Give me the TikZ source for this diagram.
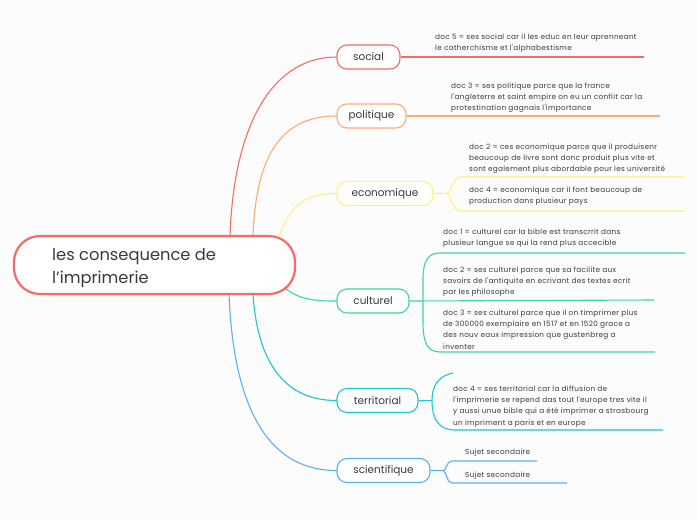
\documentclass[tikz,border=0pt]{standalone}
\usepackage{fontspec}
\setmainfont{Poppins}
\newfontfamily\leaffont[LetterSpace=4]{Poppins}
\definecolor{cred}{HTML}{F56B68}
\definecolor{corange}{HTML}{FFAA72}
\definecolor{cyellow}{HTML}{FFF07E}
\definecolor{cgreen}{HTML}{3FD5A2}
\definecolor{ccyan}{HTML}{1BC6D6}
\definecolor{cblue}{HTML}{5CAEF5}
\definecolor{ctext}{HTML}{3A3A3A}
\definecolor{cbg}{HTML}{FCFCFC}
\pgfdeclarelayer{bg}
\pgfsetlayers{bg,main}
\tikzset{
  branch/.style={draw=#1, line width=1.1pt, fill=white, rounded corners=10pt, minimum height=24pt, inner sep=0pt, font=\fontsize{10.5}{12}\selectfont, text=ctext},
  leaf/.style={anchor=north west, inner sep=0pt, align=left, font=\leaffont\fontsize{7.3}{11.3}\selectfont, text=ctext},
  conn/.style={line width=1.1pt, draw=#1},
}
\begin{document}
\begin{tikzpicture}[x=1pt,y=-1pt]
\begin{pgfonlayer}{bg}
\fill[cbg] (0,0) rectangle (697,520);
\end{pgfonlayer}
\useasboundingbox (0,0) rectangle (697,520);

% central
\node[draw=cred, line width=2.2pt, fill=white, rounded corners=26pt, minimum width=281pt, minimum height=58pt, inner sep=0pt] (c) at (154.5,265) {};
\node[anchor=west, align=left, inner sep=0pt, font=\fontsize{16.3}{22.5}\selectfont, text=ctext] (ct) at (52,268) {les consequence de\\l'imprimerie};

% branches
\node[branch=cred, minimum width=63pt] (s) at (368.5,57) {social};
\node[branch=corange, minimum width=69pt] (p) at (371.5,116) {politique};
\node[branch=cyellow, minimum width=96pt] (e) at (385,193.5) {economique};
\node[branch=cgreen, minimum width=72pt] (cu) at (373,301) {culturel};
\node[branch=ccyan, minimum width=81pt] (t) at (377.5,400.5) {territorial};
\node[branch=cblue, minimum width=93pt] (sc) at (383.5,470.5) {scientifique};

% start points on central node
\coordinate (c1) at (230,236);
\coordinate (c2) at (253,236);
\coordinate (c3) at (279,237);
\coordinate (c4) at (285,288);
\coordinate (c5) at (253,294);
\coordinate (c6) at (229,294);

\begin{pgfonlayer}{bg}
\draw[conn=cred] (c1) .. controls (234,120) and (275,57) .. (s.west);
\draw[conn=corange] (c2) .. controls (256,150) and (285,116) .. (p.west);
\draw[conn=cyellow] (c3) .. controls (290,205) and (305,193.5) .. (e.west);
\draw[conn=cgreen] (c4) .. controls (300,300) and (315,301) .. (cu.west);
\draw[conn=ccyan] (c5) .. controls (258,370) and (290,400.5) .. (t.west);
\draw[conn=cblue] (c6) .. controls (234,420) and (275,470.5) .. (sc.west);
\end{pgfonlayer}

% leaf ends
\coordinate (s1) at (644,57);
\coordinate (p1) at (660,116);
\coordinate (e1) at (685,177);
\coordinate (e2) at (685,211);
\coordinate (u1) at (685,253);
\coordinate (u2) at (654,300);
\coordinate (u3) at (655,352);
\coordinate (t1) at (663,430);
\coordinate (t0) at (453,373);
\coordinate (k1) at (537,461);
\coordinate (k2) at (567,483);

% leaf connectors
\draw[conn=cred] (s.east) -- (s1);
\draw[conn=corange] (p.east) -- (p1);
\draw[conn=cyellow] (e.east) -- (446,193.5) .. controls (452,193.5) and (451,177) .. (462,177) -- (e1);
\draw[conn=cyellow] (446,193.5) .. controls (452,193.5) and (451,211) .. (462,211) -- (e2);
\draw[conn=cgreen] (cu.east) -- (u2);
\draw[conn=cgreen] (u1) -- (440,253) .. controls (427,253) and (423,262) .. (423,280) -- (423,322) .. controls (423,342) and (427,352) .. (440,352) -- (u3);
\draw[conn=ccyan] (t.east) -- (432,400.5);
\draw[conn=ccyan] (t0) .. controls (438,376) and (432,386) .. (432,400.5) .. controls (432,418) and (438,430) .. (455,430) -- (t1);
\draw[conn=cblue] (sc.east) -- (443,470.5) .. controls (447,470.5) and (446,461) .. (452,461) -- (k1);
\draw[conn=cblue] (443,470.5) .. controls (447,470.5) and (446,483) .. (452,483) -- (k2);

% leaf texts
\node[leaf] (l1) at (435,33.5) {doc 5 = ses social car il les educ en leur aprenneant\\le catherchisme et l'alphabestisme};
\node[leaf] (l2) at (451,82.5) {doc 3 = ses politique parce que la france\\l'angleterre et saint empire on eu un conflit car la\\protestination gagnais l'importance};
\node[leaf] (l3) at (469,143.5) {doc 2 = ces economique parce que il produisenr\\beaucoup de livre sont donc produit plus vite et\\sont egalement plus abordable pour les université};
\node[leaf] (l4) at (469,186.5) {doc 4 = economique car il font beaucoup de\\production dans plusieur pays};
\node[leaf] (l5) at (443,228.5) {doc 1 = culturel car la bible est transcrrit dans\\plusieur langue se qui la rend plus accecible};
\node[leaf] (l6) at (443,266.5) {doc 2 = ses culturel parce que sa facilite aux\\savoirs de l'antiquite en ecrivant des textes ecrit\\par les philosophe};
\node[leaf] (l7) at (443,309.5) {doc 3 = ses culturel parce que il on timprimer plus\\de 300000 exemplaire en 1517 et en 1520 grace a\\des nouv eaux impression que gustenbreg a\\inventer};
\node[leaf] (l8) at (453,385.5) {doc 4 = ses territorial car la diffusion de\\l'imprimerie se repend das tout l'europe tres vite il\\y aussi unue bible qui a été imprimer a strasbourg\\un impriment a paris et en europe};
\node[leaf] (l9) at (465,448.5) {Sujet secondaire};
\node[leaf] (l10) at (465,471.5) {Sujet secondaire};
\end{tikzpicture}
\end{document}
